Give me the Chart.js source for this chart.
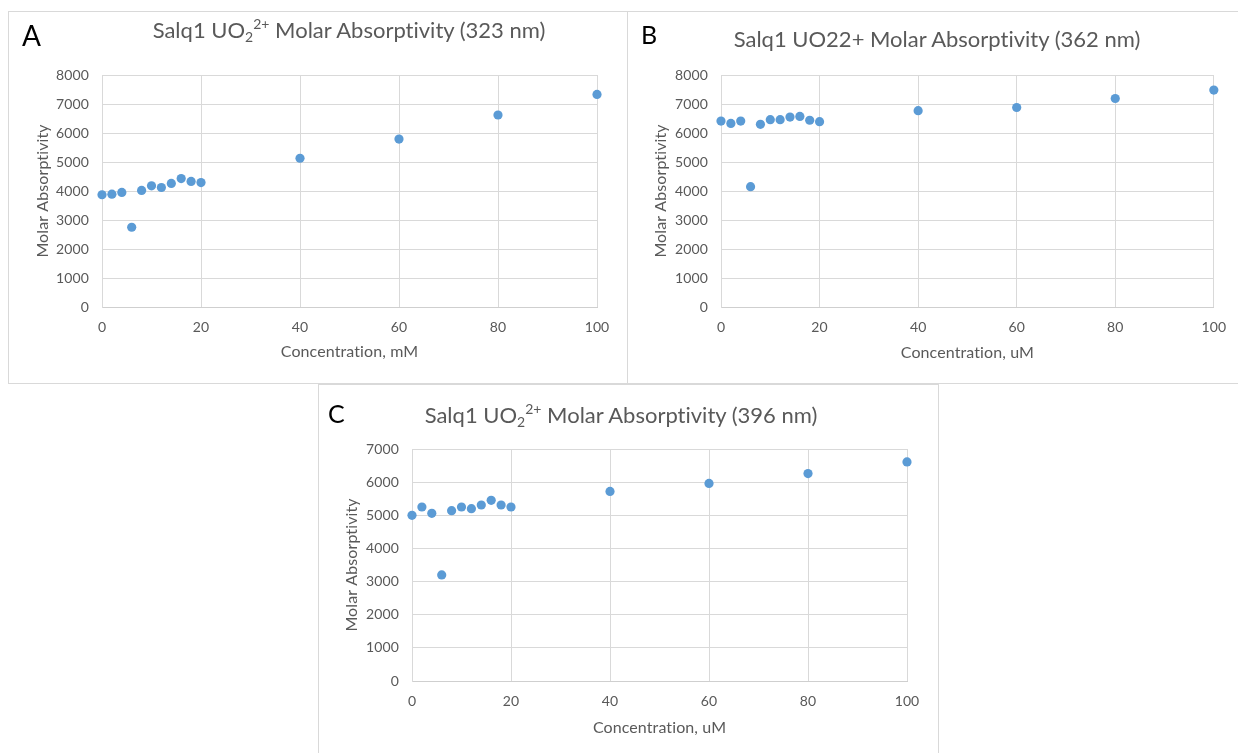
<!DOCTYPE html>
<html>
<head>
<meta charset="utf-8">
<script src="https://cdn.jsdelivr.net/npm/chart.js@4/dist/chart.umd.min.js"></script>
<style>
  html, body { margin: 0; padding: 0; background: #fff; overflow: hidden; width: 1238px; height: 753px; }
  .frame { position: absolute; border: 1px solid #d9d9d9; box-sizing: border-box; }
  canvas { position: absolute; }
  .ttl { position: absolute; white-space: nowrap; font-family: Lato, sans-serif; color: #595959;
         font-size: 22px; line-height: 22px; transform: translateX(-50%);
         font-variant-ligatures: none; }
  .ttl sub, .ttl sup { font-size: 14px; line-height: 0; position: relative; vertical-align: baseline; }
  .ttl sub { top: 4px; }
  .ttl sup { top: -9px; }
  .tag { position: absolute; font-family: Lato, sans-serif; color: #000; white-space: nowrap; }
</style>
</head>
<body>
<div class="frame" style="left:8px;top:11px;width:620px;height:373px;"></div>
<div class="frame" style="left:627px;top:11px;width:620px;height:373px;"></div>
<div class="frame" style="left:318px;top:384px;width:621px;height:380px;"></div>

<canvas id="chartA" width="619" height="372" style="left:8px;top:11px;"></canvas>
<canvas id="chartB" width="610" height="372" style="left:628px;top:11px;"></canvas>
<canvas id="chartC" width="620" height="369" style="left:318px;top:384px;"></canvas>

<div class="tag" style="left:22px;top:21px;font-size:28px;line-height:28px;">A</div>
<div class="tag" style="left:641px;top:22px;font-size:25px;line-height:25px;">B</div>
<div class="tag" style="left:328px;top:401px;font-size:25px;line-height:25px;">C</div>

<div class="ttl" style="left:349px;top:19px;">Salq1 UO<sub>2</sub><sup>2+</sup> Molar Absorptivity (323 nm)</div>
<div class="ttl" style="left:937px;top:28px;">Salq1 UO22+ Molar Absorptivity (362 nm)</div>
<div class="ttl" style="left:621px;top:404px;">Salq1 UO<sub>2</sub><sup>2+</sup> Molar Absorptivity (396 nm)</div>

<script>
// Uranyl titration: concentration steps and molar absorptivity at three wavelengths
const concentration = [0, 2, 4, 6, 8, 10, 12, 14, 16, 18, 20, 40, 60, 80, 100];
const absorptivity323 = [3870, 3890, 3950, 2750, 4020, 4180, 4120, 4260, 4430, 4330, 4290, 5130, 5790, 6620, 7330];
const absorptivity362 = [6410, 6330, 6410, 4150, 6300, 6460, 6460, 6550, 6570, 6440, 6390, 6770, 6880, 7190, 7480];
const absorptivity396 = [5000, 5250, 5060, 3200, 5140, 5250, 5200, 5310, 5450, 5310, 5250, 5720, 5960, 6260, 6610];

// Axis tick values
const xTickValues = [0, 20, 40, 60, 80, 100];
const yTickValues8000 = [0, 1000, 2000, 3000, 4000, 5000, 6000, 7000, 8000];
const yTickValues7000 = [0, 1000, 2000, 3000, 4000, 5000, 6000, 7000];

// Axis titles
const yAxisTitle = 'Molar Absorptivity';
const xAxisTitleA = 'Concentration, mM';
const xAxisTitleB = 'Concentration, uM';
const xAxisTitleC = 'Concentration, uM';

Chart.defaults.font.family = 'Lato, sans-serif';
Chart.defaults.color = '#595959';

const GRID = '#d9d9d9';
const POINT = '#5b9bd5';

// A tiny letter spacing keeps the canvas from joining "ti" into a ligature
const noLigatures = {
  id: 'noLigatures',
  beforeInit(chart) { chart.ctx.letterSpacing = '0.1px'; },
  beforeDraw(chart) { chart.ctx.letterSpacing = '0.1px'; }
};

function makeChart(id, values, yTicks, xTitle, g) {
  const points = concentration.map((c, i) => ({ x: c, y: values[i] }));
  return new Chart(document.getElementById(id), {
    type: 'scatter',
    plugins: [noLigatures],
    data: {
      datasets: [{
        data: points,
        clip: false,
        pointRadius: 4.6,
        pointHoverRadius: 4.6,
        backgroundColor: POINT,
        borderColor: POINT,
        borderWidth: 0
      }]
    },
    options: {
      responsive: false,
      animation: false,
      events: [],
      layout: { padding: { left: g.padL, right: g.padR, top: g.padT, bottom: g.padB } },
      plugins: { legend: { display: false }, tooltip: { enabled: false }, title: { display: false } },
      scales: {
        x: {
          type: 'linear',
          min: xTickValues[0],
          max: xTickValues[xTickValues.length - 1],
          afterBuildTicks: s => { s.ticks = xTickValues.map(v => ({ value: v })); },
          afterFit: s => { s.height = g.xH; },
          grid: { color: GRID, lineWidth: 1, drawTicks: false },
          border: { color: '#cfcfcf', width: 1 },
          ticks: { padding: 12, font: { size: 14 }, color: '#595959', maxRotation: 0,
                   callback: v => String(v) },
          title: { display: true, text: xTitle, font: { size: 16 }, color: '#595959', padding: { top: 4, bottom: 4 } }
        },
        y: {
          type: 'linear',
          min: yTicks[0],
          max: yTicks[yTicks.length - 1],
          afterBuildTicks: s => { s.ticks = yTicks.map(v => ({ value: v })); },
          afterFit: s => { s.width = g.yW; },
          grid: { color: GRID, lineWidth: 1, drawTicks: false },
          border: { color: GRID, width: 1 },
          ticks: { padding: 13, font: { size: 14 }, color: '#595959', callback: v => String(v) },
          title: { display: true, text: yAxisTitle, font: { size: 16 }, color: '#595959', padding: { top: 4, bottom: 4 } }
        }
      }
    }
  });
}

makeChart('chartA', absorptivity323, yTickValues8000, xAxisTitleA,
  { padL: 21, padR: 30, padT: 64, padB: 18, yW: 73, xH: 58 });
makeChart('chartB', absorptivity362, yTickValues8000, xAxisTitleB,
  { padL: 19, padR: 20, padT: 64, padB: 17, yW: 74, xH: 59 });
makeChart('chartC', absorptivity396, yTickValues7000, xAxisTitleC,
  { padL: 20, padR: 31, padT: 65, padB: 12, yW: 74, xH: 60 });
</script>
</body>
</html>
